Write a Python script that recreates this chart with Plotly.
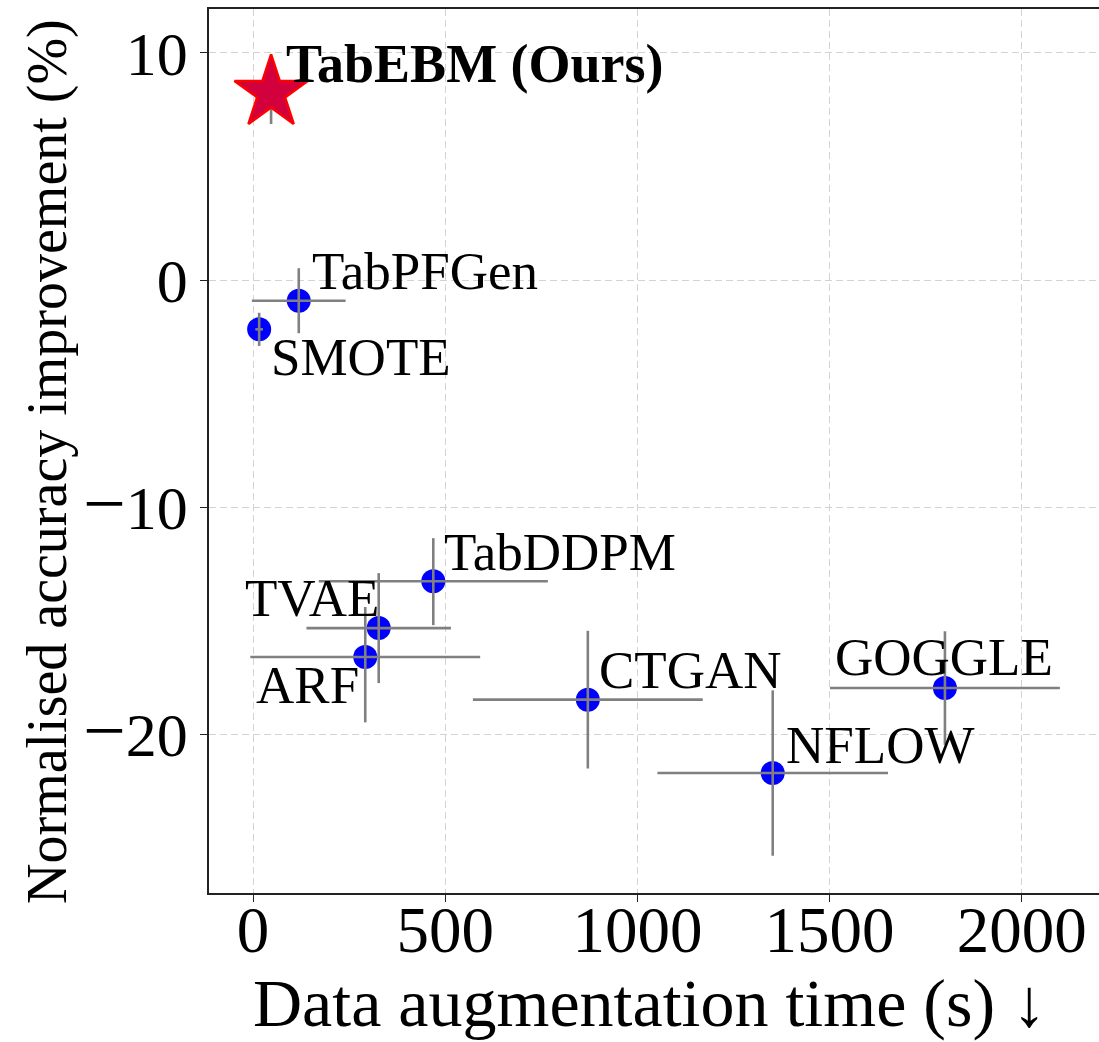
import plotly.graph_objects as go

# ---- data ----
methods = ["TabEBM (Ours)", "TabPFGen", "SMOTE", "TabDDPM", "TVAE", "ARF", "CTGAN", "NFLOW", "GOGGLE"]
aug_time = [47, 119, 16, 469, 327, 292, 871, 1352, 1800]
aug_time_err = [15, 122, 10, 298, 188, 299, 299, 300, 299]
acc_improve = [8.24, -0.91, -2.17, -13.26, -15.32, -16.59, -18.47, -21.70, -17.96]
acc_err_plus = [1.37, 1.43, 0.73, 1.90, 2.42, 2.20, 3.03, 3.64, 2.50]
acc_err_minus = [1.37, 1.43, 0.73, 1.93, 2.42, 2.88, 3.03, 3.64, 2.50]

x_ticks = [0, 500, 1000, 1500, 2000]
x_ticktext = ["0", "500", "1000", "1500", "2000"]
y_ticks = [-20, -10, 0, 10]
MINUS = '<span style="font-size:76px">\u2212</span>'
y_ticktext = [MINUS + "20", MINUS + "10", "0", "10"]

x_title = "Data augmentation time (s) \u2193"
y_title = "Normalised accuracy improvement (%)"

# ---- label placement (pixel offsets from each point) ----
label_dx = [13, 11, 10, 9, 2, -4, 9, 11, -1]
label_dy = [29, 30, -28, 29.5, 30, -28, 30, 28, 31]
label_anchor = ["left", "left", "left", "left", "right", "right", "left", "left", "center"]

FONT = "Liberation Serif"

fig = go.Figure()

others = list(range(1, len(methods)))
# blue markers for baselines
fig.add_trace(go.Scatter(
    x=[aug_time[i] for i in others],
    y=[acc_improve[i] for i in others],
    mode="markers",
    marker=dict(symbol="circle", size=24, color="#0000ff", line=dict(width=0)),
    showlegend=False, hoverinfo="skip",
))
# error bars (drawn over the blue markers)
fig.add_trace(go.Scatter(
    x=aug_time, y=acc_improve, mode="markers",
    marker=dict(size=1, opacity=0),
    error_x=dict(type="data", array=aug_time_err, color="#808080", thickness=2.6, width=0),
    error_y=dict(type="data", array=acc_err_plus, arrayminus=acc_err_minus,
                 symmetric=False, color="#808080", thickness=2.6, width=0),
    showlegend=False, hoverinfo="skip",
))
# star for TabEBM
fig.add_trace(go.Scatter(
    x=[aug_time[0]], y=[acc_improve[0]], mode="markers",
    marker=dict(symbol="star", size=55, color="#d2003c", line=dict(color="#ff0000", width=2.5)),
    showlegend=False, hoverinfo="skip",
))

for i, name in enumerate(methods):
    bold = (i == 0)
    fig.add_annotation(
        x=aug_time[i], y=acc_improve[i], xref="x", yref="y",
        text=f"<b>{name}</b>" if bold else name,
        showarrow=False, xanchor=label_anchor[i], yanchor="middle",
        xshift=label_dx[i], yshift=label_dy[i],
        font=dict(family=FONT, size=54 if bold else 53, color="black"),
    )

# axis titles
fig.add_annotation(
    text=x_title, xref="paper", yref="paper", x=0.4944, y=0,
    xanchor="center", yanchor="top", yshift=-70, showarrow=False,
    font=dict(family=FONT, size=68, color="black"),
)
fig.add_annotation(
    text=y_title, xref="paper", yref="paper", x=0, y=0.4876,
    xanchor="center", yanchor="middle", xshift=-161, textangle=-90, showarrow=False,
    font=dict(family=FONT, size=56, color="black"),
)

fig.update_layout(
    width=1099, height=1042,
    margin=dict(l=209, r=0, t=9, b=149),
    plot_bgcolor="white", paper_bgcolor="white",
    font=dict(family=FONT, color="black"),
    xaxis=dict(
        range=[-114.5, 2200.8], tickvals=x_ticks, ticktext=x_ticktext,
        showgrid=True, gridcolor="#d3d3d3", griddash="7px,4px", gridwidth=1.2,
        zeroline=False, showline=True, linecolor="#222222", linewidth=1.6, mirror=True,
        ticks="outside", ticklen=7, tickwidth=1.4, tickcolor="#222222",
        tickfont=dict(family=FONT, size=65, color="black"),
        ticklabelstandoff=-28,
    ),
    yaxis=dict(
        range=[-26.98, 11.93], tickvals=y_ticks, ticktext=y_ticktext,
        showgrid=True, gridcolor="#d3d3d3", griddash="7px,4px", gridwidth=1.2,
        zeroline=False, showline=True, linecolor="#222222", linewidth=1.6, mirror=False,
        ticks="outside", ticklen=7, tickwidth=1.4, tickcolor="#222222",
        tickfont=dict(family=FONT, size=62, color="black"),
    ),
)

fig.write_html("out.html")
